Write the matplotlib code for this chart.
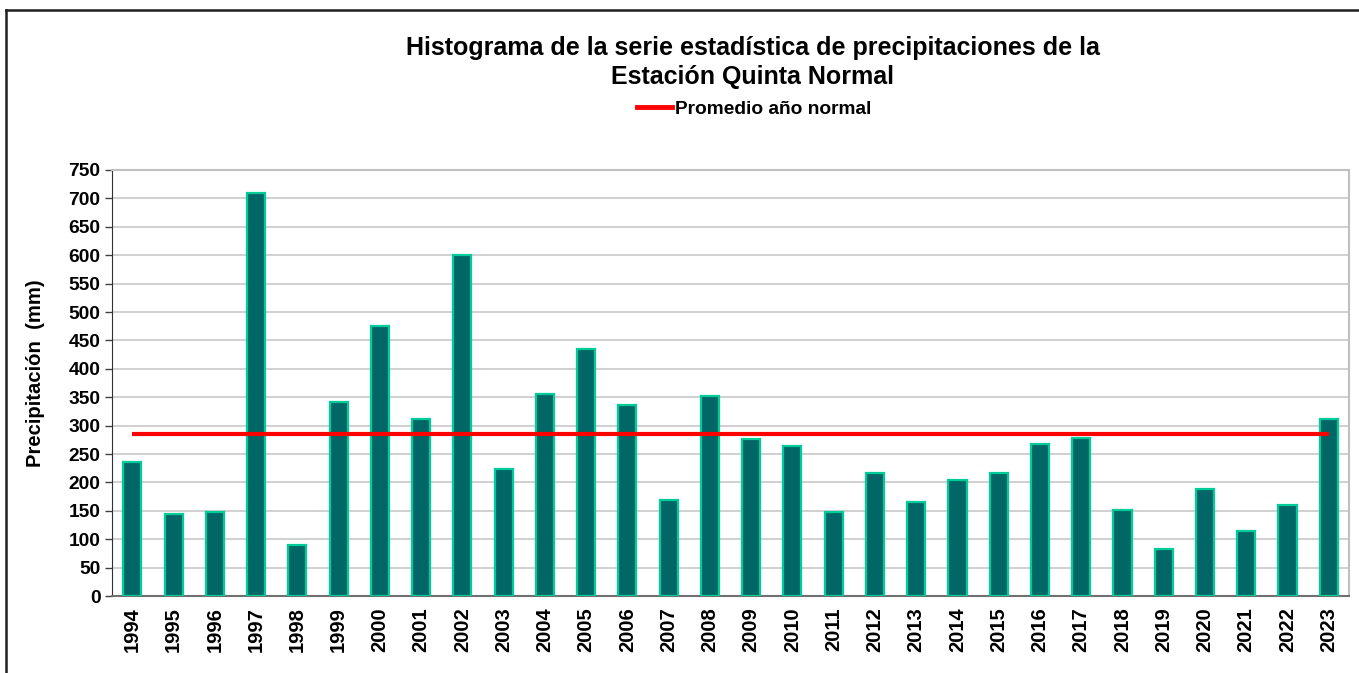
import matplotlib.pyplot as plt
from matplotlib.lines import Line2D

plt.rcParams['font.family'] = ['Liberation Sans', 'DejaVu Sans']
plt.rcParams['font.weight'] = 'bold'

years = [str(y) for y in range(1994, 2024)]
precip = [236, 145, 148, 709, 89, 342, 475, 312, 600, 224,
          355, 435, 336, 169, 352, 277, 264, 148, 216, 166,
          204, 217, 268, 278, 151, 83, 188, 114, 161, 311]
promedio = 285

fig = plt.figure(figsize=(13.59, 6.73), dpi=100)
ax = fig.add_axes([0.0822, 0.1144, 0.9107, 0.633])

x = list(range(len(years)))
ax.bar(x, precip, width=0.44, color='#006666', edgecolor='#00CC99', linewidth=1.6, zorder=3)
ax.plot([x[0], x[-1]], [promedio] * 2, color='#FF0000', lw=3.0, zorder=4,
        label='Promedio año normal', solid_capstyle='butt')

ax.set_xlim(-0.5, len(years) - 0.5)
ax.set_ylim(0, 750)
ax.set_yticks(range(0, 751, 50))
ax.set_xticks(x)
ax.set_xticklabels(years, rotation=90, fontsize=14.5, fontweight='bold')
ax.tick_params(axis='y', labelsize=13.8, length=5, width=1, color='#404040', pad=3)
ax.tick_params(axis='x', length=0, pad=8)
ax.yaxis.grid(True, color='#C8C8C8', lw=1.2, zorder=0)
ax.set_axisbelow(True)

for s in ['top', 'right']:
    ax.spines[s].set_color('#C0C0C0')
    ax.spines[s].set_linewidth(1.5)
ax.spines['left'].set_color('#303030')
ax.spines['bottom'].set_color('#707070')
ax.spines['bottom'].set_linewidth(1.5)

ax.set_ylabel('Precipitación  (mm)', fontsize=14.6, fontweight='bold')
ax.yaxis.set_label_coords(-0.0535, 0.523)

fig.text(0.554, 0.907, 'Histograma de la serie estadística de precipitaciones de la\nEstación Quinta Normal',
         ha='center', va='center', fontsize=18, fontweight='bold', linespacing=1.3)

leg = fig.legend(handles=[Line2D([], [], color='#FF0000', lw=3.5)], labels=['Promedio año normal'],
                 loc='center', bbox_to_anchor=(0.555, 0.838), frameon=False,
                 prop={'size': 13.8, 'weight': 'bold'}, handlelength=1.8, handletextpad=0.15)

# outer chart frame
fig.add_artist(Line2D([6 / 1359, 1.0], [1 - 10 / 673] * 2, color='#202020', lw=1.8))
fig.add_artist(Line2D([6 / 1359] * 2, [0, 1 - 10 / 673], color='#202020', lw=1.8))

fig.savefig('out.png', dpi=100, facecolor='white')
